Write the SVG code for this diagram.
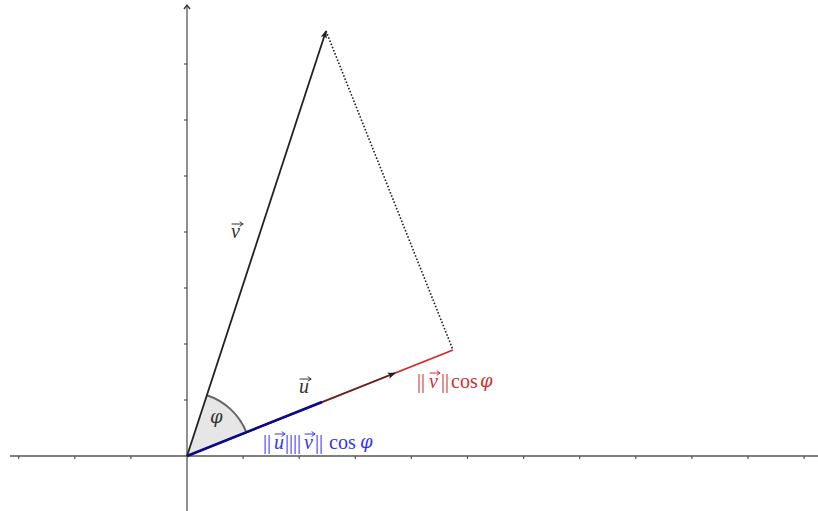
<svg xmlns="http://www.w3.org/2000/svg" width="818" height="511" viewBox="0 0 818 511">
<style>
.axis{stroke:#555;stroke-width:1.3;fill:none}
.tick{stroke:#555;stroke-width:1.2}
.lbl{font-family:"Liberation Serif","DejaVu Serif",serif;font-size:20px}
.it{font-style:italic}
.phi{font-family:"DejaVu Serif",serif;font-style:italic;font-size:18px}
.acc{fill:none;stroke-width:1;stroke-linecap:round}
</style>
<defs>
<marker id="ah" viewBox="0 0 10 10" refX="9" refY="5" markerWidth="8" markerHeight="8" markerUnits="userSpaceOnUse" orient="auto">
<path d="M0,1 L10,5 L0,9 L2,5 Z" fill="#222"/>
</marker>
</defs>
<rect width="818" height="511" fill="#fff"/>
<g id="angle">
<path d="M187,456 L246.4,432.3 A64,64 0 0,0 206.9,395.2 Z" fill="#e6e6e6" stroke="none"/>
<path d="M246.4,432.3 A64,64 0 0,0 206.9,395.2" fill="none" stroke="#666" stroke-width="2"/>
</g>
<g id="axes">
<line class="axis" x1="10" y1="456" x2="818" y2="456"/>
<line class="axis" x1="187" y1="511" x2="187" y2="5"/>
<path d="M184,9 L187,5 L190,9" fill="none" stroke="#333" stroke-width="1.3"/>
<g class="tick">
<line x1="18.7" y1="456" x2="18.7" y2="459"/><line x1="74.8" y1="456" x2="74.8" y2="459"/><line x1="130.9" y1="456" x2="130.9" y2="459"/>
<line x1="243.1" y1="456" x2="243.1" y2="459"/><line x1="299.2" y1="456" x2="299.2" y2="459"/><line x1="355.3" y1="456" x2="355.3" y2="459"/>
<line x1="411.4" y1="456" x2="411.4" y2="459"/><line x1="467.5" y1="456" x2="467.5" y2="459"/><line x1="523.6" y1="456" x2="523.6" y2="459"/>
<line x1="579.7" y1="456" x2="579.7" y2="459"/><line x1="635.8" y1="456" x2="635.8" y2="459"/><line x1="691.9" y1="456" x2="691.9" y2="459"/>
<line x1="748" y1="456" x2="748" y2="459"/><line x1="804.1" y1="456" x2="804.1" y2="459"/>
<line x1="184" y1="400" x2="187" y2="400"/><line x1="184" y1="344" x2="187" y2="344"/><line x1="184" y1="288" x2="187" y2="288"/>
<line x1="184" y1="232" x2="187" y2="232"/><line x1="184" y1="176" x2="187" y2="176"/><line x1="184" y1="120" x2="187" y2="120"/>
<line x1="184" y1="64" x2="187" y2="64"/>
</g>
</g>
<g id="connectors">
<line id="proj" x1="187" y1="456" x2="453" y2="350" stroke="#d42a2a" stroke-width="1.8"/>
<line id="u" x1="187" y1="456" x2="395" y2="373" stroke="#222" stroke-opacity="0.65" stroke-width="1.8" marker-end="url(#ah)"/>
<line id="dot" x1="187" y1="456" x2="322" y2="402" stroke="#0a0a90" stroke-width="2.6"/>
<line id="v" x1="187" y1="456" x2="326" y2="31" stroke="#222" stroke-width="1.8" marker-end="url(#ah)"/>
<line id="perp" x1="326" y1="31" x2="453" y2="350" stroke="#222" stroke-width="1.6" stroke-dasharray="1.6,1.8"/>
</g>
<g id="label-v">
<text class="lbl it" x="231" y="238" fill="#333">v</text>
<path class="acc" stroke="#333" d="M232,224 H243 M240,221.8 L243,224 L240,226.2"/>
</g>
<g id="label-u">
<text class="lbl it" x="299" y="393" fill="#333">u</text>
<path class="acc" stroke="#333" d="M300,379 H311 M308,376.8 L311,379 L308,381.2"/>
</g>
<g id="label-phi">
<text class="phi" x="210" y="423" fill="#333">φ</text>
</g>
<g id="label-dot" fill="#3333ff">
<text class="lbl" y="449"><tspan x="263">|</tspan><tspan x="267">|</tspan><tspan class="it" x="274">u</tspan><tspan x="285">|</tspan><tspan x="289">|</tspan><tspan x="293">|</tspan><tspan x="297">|</tspan><tspan class="it" x="304">v</tspan><tspan x="315">|</tspan><tspan x="319">|</tspan><tspan x="329">cos</tspan></text>
<text class="phi" x="360" y="448">φ</text>
<path class="acc" stroke="#3333ff" d="M275,434 H285 M282,431.8 L285,434 L282,436.2 M305,434 H315 M312,431.8 L315,434 L312,436.2"/>
</g>
<g id="label-proj" fill="#d03030">
<text class="lbl" y="388"><tspan x="417">|</tspan><tspan x="421">|</tspan><tspan class="it" x="429">v</tspan><tspan x="441">|</tspan><tspan x="445">|</tspan><tspan x="451">cos</tspan></text>
<text class="phi" x="480" y="387">φ</text>
<path class="acc" stroke="#d03030" d="M430,373 H440 M437,370.8 L440,373 L437,375.2"/>
</g>
</svg>
